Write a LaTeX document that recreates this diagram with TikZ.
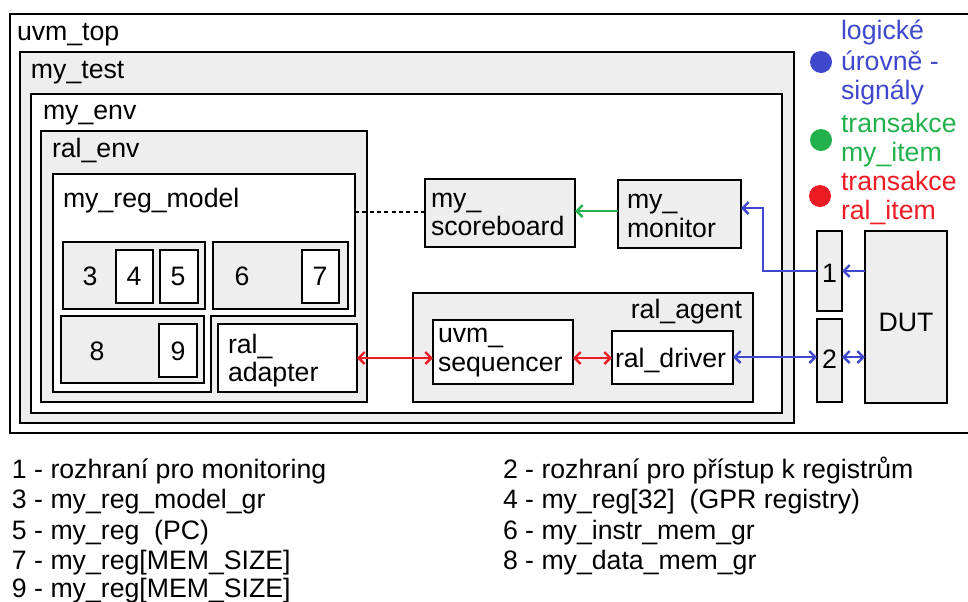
\documentclass[tikz,border=0pt]{standalone}
\usepackage{fontspec}
\setmainfont{Liberation Sans}
\usetikzlibrary{fit,arrows.meta}
\definecolor{boxgray}{HTML}{EEEEEE}
\definecolor{sigblue}{HTML}{3F48CC}
\definecolor{trgreen}{HTML}{22B14C}
\definecolor{trred}{HTML}{ED1C24}
\begin{document}
\begin{tikzpicture}[x=0.75pt,y=-0.75pt,
  wbox/.style={draw=black, line width=2pt, fill=white, inner sep=0pt, outer sep=0pt},
  gbox/.style={wbox, fill=boxgray},
  lbl/.style={inner sep=0pt, outer sep=0pt, font=\fontsize{20}{24}\selectfont, anchor=base west},
  num/.style={lbl, anchor=base},
  leg/.style={inner sep=0pt, outer sep=0pt, font=\fontsize{20}{24}\selectfont, anchor=base west},
  dot/.style={circle, inner sep=0pt, minimum size=16.5pt},
  conn/.style={line width=1.8pt},
  dotline/.style={conn, dash pattern=on 3pt off 2.5pt},
  >={Straight Barb[length=4.5pt,width=9pt]}
]
\useasboundingbox (0,0) rectangle (968,601);

% nested containers
\node[wbox, fit={(10,14) (985,433)}] (uvmtop) {};
\node[lbl] (uvmtoplbl) at (17,40) {uvm\_top};
\node[gbox, fit={(20,52) (794,423)}] (mytest) {};
\node[lbl] (mytestlbl) at (31,78) {my\_test};
\node[wbox, fit={(31,94) (782,413)}] (myenv) {};
\node[lbl] (myenvlbl) at (43,119) {my\_env};
\node[gbox, fit={(41,131) (367,402)}] (ralenv) {};
\node[lbl] (ralenvlbl) at (52,157) {ral\_env};

% register model (L-shaped)
\draw[wbox] (53,174) -- (355,174) -- (355,316) -- (211,316) -- (211,392) -- (53,392) -- cycle;
\coordinate (rmR) at (355,212);
\node[lbl] (regmodellbl) at (63,207) {my\_reg\_model};

\node[gbox, fit={(63,242) (205,309)}] (g3) {};
\node[num] (g3lbl) at (90,285) {3};
\node[wbox, fit={(116,250) (153,303)}] (r4) {};
\node[num] (r4lbl) at (134,285) {4};
\node[wbox, fit={(160,250) (198,303)}] (r5) {};
\node[num] (r5lbl) at (178,285) {5};

\node[gbox, fit={(213,242) (348,309)}] (g6) {};
\node[num] (g6lbl) at (242,285) {6};
\node[wbox, fit={(302,250) (339,303)}] (r7) {};
\node[num] (r7lbl) at (320,285) {7};

\node[gbox, fit={(61,316) (204,383)}] (g8) {};
\node[num] (g8lbl) at (97,360) {8};
\node[wbox, fit={(159,324) (197,377)}] (r9) {};
\node[num] (r9lbl) at (178,360) {9};

\node[wbox, fit={(218,324) (357,392)}] (adapter) {};
\node[lbl] (adapterlbl1) at (228,353) {ral\_};
\node[lbl] (adapterlbl2) at (228,381) {adapter};

% scoreboard, monitor
\node[gbox, fit={(425,179) (575,247)}] (sb) {};
\node[lbl] (sblbl1) at (431,207) {my\_};
\node[lbl] (sblbl2) at (431,235) {scoreboard};
\node[gbox, fit={(618,180) (741,248)}] (mon) {};
\node[lbl] (monlbl1) at (627,208) {my\_};
\node[lbl] (monlbl2) at (627,237) {monitor};

% ral agent
\node[gbox, fit={(413,293) (753,402)}] (agent) {};
\node[lbl, anchor=base east] (agentlbl) at (742,318) {ral\_agent};
\node[wbox, fit={(433,320) (573,384)}] (seq) {};
\node[lbl] (seqlbl1) at (438,342) {uvm\_};
\node[lbl] (seqlbl2) at (438,371) {sequencer};
\node[wbox, fit={(612,331) (733,384)}] (drv) {};
\node[lbl] (drvlbl) at (615,367) {ral\_driver};

% interfaces and DUT
\node[gbox, fit={(817,231) (842,311)}] (if1) {};
\node[num] (if1lbl) at (829.5,282) {1};
\node[gbox, fit={(817,319) (842,402)}] (if2) {};
\node[num] (if2lbl) at (829.5,368) {2};
\node[gbox, fit={(865,231) (947,403)}] (dut) {};
\node[num] (dutlbl) at (906,331) {DUT};

% connectors
\draw[dotline] (rmR) -- (sb.west |- rmR);
\draw[conn, trgreen, ->] (mon.west |- 0,211) -- (sb.east |- 0,211);
\coordinate (bend) at (763,208);
\draw[conn, sigblue, ->] (if1.west) -| (bend) -- (mon.east |- bend);
\draw[conn, sigblue, ->] (dut.west |- if1.east) -- (if1.east);
\draw[conn, sigblue, <->] (drv.east |- 0,357) -- (if2.west |- 0,357);
\draw[conn, sigblue, <->] (if2.east |- 0,357) -- (dut.west |- 0,357);
\draw[conn, trred, <->] (seq.east |- 0,358) -- (drv.west |- 0,358);
\draw[conn, trred, <->] (adapter.east |- 0,358) -- (seq.west |- 0,358);

% legend
\node[dot, fill=sigblue] (dotblue) at (821,62) {};
\node[leg, text=sigblue] (lb1) at (841,39) {logické};
\node[leg, text=sigblue] (lb2) at (841,70) {úrovně -};
\node[leg, text=sigblue] (lb3) at (841,99) {signály};
\node[dot, fill=trgreen] (dotgreen) at (821,140) {};
\node[leg, text=trgreen] (lg1) at (841,132) {transakce};
\node[leg, text=trgreen] (lg2) at (841,161) {my\_item};
\node[dot, fill=trred] (dotred) at (820,196) {};
\node[leg, text=trred] (lr1) at (841,190) {transakce};
\node[leg, text=trred] (lr2) at (841,219) {ral\_item};

% key
\node[leg] (k1) at (12,478) {1 - rozhraní pro monitoring};
\node[leg] (k3) at (12,508) {3 - my\_reg\_model\_gr};
\node[leg] (k5) at (12,539) {5 - my\_reg\ \ (PC)};
\node[leg] (k7) at (12,569) {7 - my\_reg[MEM\_SIZE]};
\node[leg] (k9) at (12,597) {9 - my\_reg[MEM\_SIZE]};
\node[leg] (k2) at (503,478) {2 - rozhraní pro přístup k registrům};
\node[leg] (k4) at (503,508) {4 - my\_reg[32]\ \ (GPR registry)};
\node[leg] (k6) at (503,539) {6 - my\_instr\_mem\_gr};
\node[leg] (k8) at (503,569) {8 - my\_data\_mem\_gr};
\end{tikzpicture}
\end{document}
